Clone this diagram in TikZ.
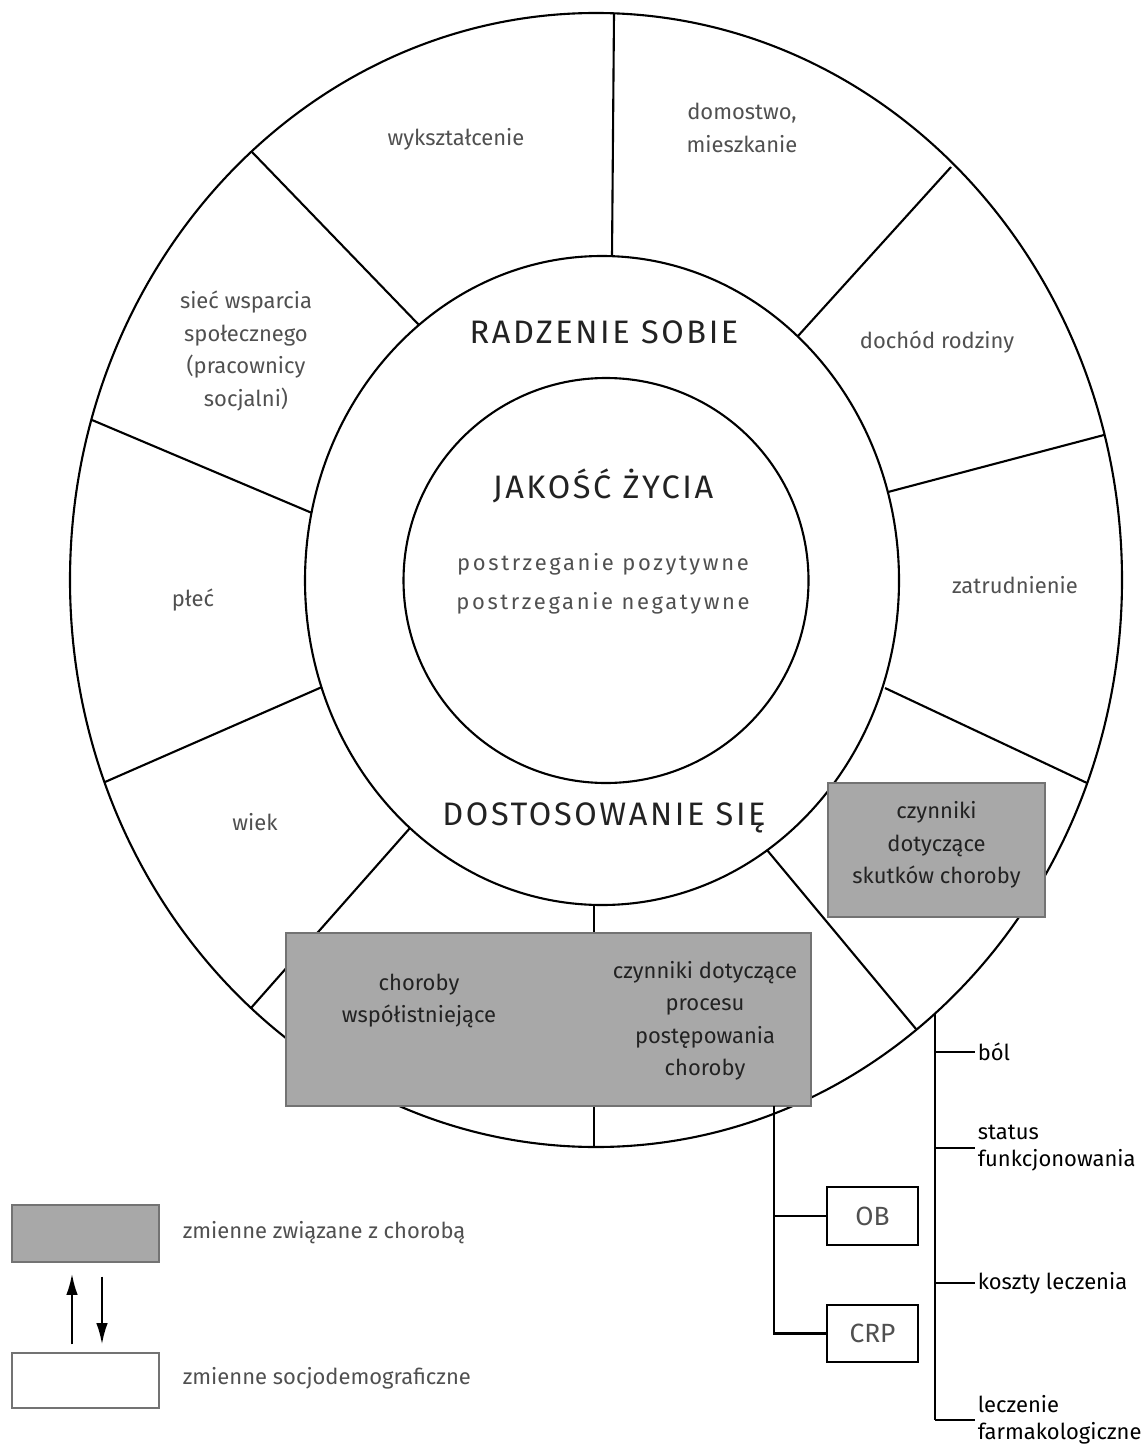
\documentclass[tikz,border=0pt]{standalone}
\usepackage{fontspec}
\setmainfont{Fira Sans}
\usetikzlibrary{arrows.meta}
\definecolor{boxgray}{HTML}{A8A8A8}
\definecolor{txtgray}{HTML}{505050}
\definecolor{txtdark}{HTML}{222222}
\begin{document}
\begin{tikzpicture}[x=0.02cm,y=-0.02cm,line width=1.2pt,
  lab/.style={text=txtgray,align=center,inner sep=1pt,font=\fontsize{12.5}{18.5}\selectfont},
  head/.style={anchor=base,text=txtdark,inner sep=0pt,font=\fontsize{18.5}{21}\selectfont\addfontfeatures{LetterSpace=8}},
  post/.style={anchor=base,text=txtgray,inner sep=0pt,font=\fontsize{12.5}{15}\selectfont\addfontfeatures{LetterSpace=12}},
  dbox/.style={fill=boxgray,draw=black!55,line width=0.8pt,text=txtdark,align=center,font=\fontsize{12.5}{18.5}\selectfont},
  btxt/.style={text=txtdark,align=center,inner sep=1pt,font=\fontsize{12.5}{18.5}\selectfont},
  wbox/.style={draw,fill=white,text=txtgray,font=\fontsize{15}{18}\selectfont},
  tlab/.style={anchor=west,align=left,inner sep=1pt,text=black,font=\fontsize{12.5}{15.5}\selectfont}]
\useasboundingbox(0,0)rectangle(1148,1449);
% rings
\draw(596,580)ellipse[x radius=526,y radius=567];
\draw(602,580.5)ellipse[x radius=297,y radius=324.5];
\draw(606,580.5)circle[radius=202.5];
% spokes between the two outer rings
\foreach \xa/\ya/\xb/\yb in {614/13/612/256, 252/152/419/325, 951/167/798/336,
  1104/435/888/492, 92/420/312/513, 322/687/105/782, 885/688/1087/783,
  410/828/251/1008, 594/905/594/1147, 767/850/916/1029}
  \draw(\xa,\ya)--(\xb,\yb);
% sociodemographic variables
\node[lab](WYK)at(456,139){wykształcenie};
\node[lab](DOM)at(742,128){domostwo,\\mieszkanie};
\node[lab](SIEC)at(246,351){sieć wsparcia\\społecznego\\(pracownicy\\socjalni)};
\node[lab](DOCH)at(937,342){dochód rodziny};
\node[lab](PLEC)at(193,600){płeć};
\node[lab](ZAT)at(1015,585){zatrudnienie};
\node[lab](WIEK)at(255,822){wiek};
% centre
\node[head](RS)at(604,343){RADZENIE SOBIE};
\node[head](JZ)at(603,498){JAKOŚĆ ŻYCIA};
\node[post](PP)at(603,570){postrzeganie pozytywne};
\node[post](PN)at(603,609){postrzeganie negatywne};
\node[head](DS)at(604,825){DOSTOSOWANIE SIĘ};
% disease related variables
\node[dbox,minimum width=10.5cm,minimum height=3.46cm](CB)at(548.5,1019.5){};
\node[btxt](CW)at(419,1001){choroby\\współistniejące};
\node[btxt](CP)at(705,1021){czynniki dotyczące\\procesu\\postępowania\\choroby};
\node[dbox,minimum width=4.34cm,minimum height=2.68cm](SK)at(936.5,850){};
\node[btxt](SKT)at(936.5,845){czynniki\\dotyczące\\skutków choroby};
\node[wbox,minimum width=1.82cm,minimum height=1.16cm](OB)at(872.5,1216){OB};
\node[wbox,minimum width=1.82cm,minimum height=1.14cm](CRP)at(872.5,1333.5){CRP};
\coordinate(L)at(774,1106);
\draw(L)|-(OB.west);
\draw(L)|-(CRP.west);
% effects of the disease
\coordinate(R)at(935,1013);
\node[tlab](BOL)at(975,1052){ból};
\node[tlab](STAT)at(975,1148){status\\funkcjonowania};
\node[tlab](KOSZ)at(975,1283){koszty leczenia};
\node[tlab](LEK)at(975,1420){leczenie\\farmakologiczne};
\draw(R)--(R|-LEK.west);
\foreach \n in {BOL,STAT,KOSZ,LEK}\draw(R|-\n.west)--(\n.west);
% legend
\node[fill=boxgray,draw=black!55,line width=0.8pt,minimum width=2.94cm,minimum height=1.14cm](LG)at(85.5,1233.5){};
\node[draw=black!55,line width=0.8pt,minimum width=2.94cm,minimum height=1.1cm](LW)at(85.5,1380.5){};
\node[lab,anchor=west](LGT)at(180,1233){zmienne związane z chorobą};
\node[lab,anchor=west](LWT)at(180,1378){zmienne socjodemograficzne};
\draw[-{Latex[length=12pt,width=6.5pt]},shorten <=0.16cm,shorten >=0.22cm]([xshift=-0.27cm]LW.north)--([xshift=-0.27cm]LG.south);
\draw[-{Latex[length=12pt,width=6.5pt]},shorten <=0.28cm,shorten >=0.16cm]([xshift=0.33cm]LG.south)--([xshift=0.33cm]LW.north);
\end{tikzpicture}
\end{document}
